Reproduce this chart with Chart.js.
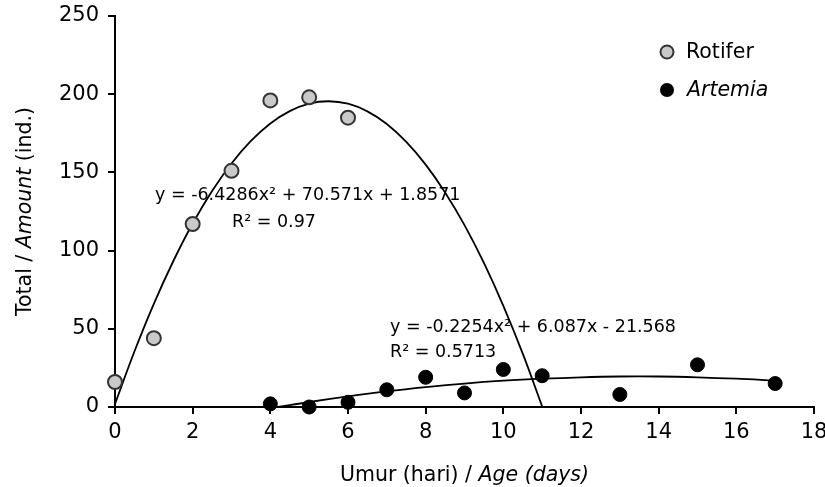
<!DOCTYPE html>
<html lang="id">
<head>
  <meta charset="UTF-8">
  <title>Rotifer & Artemia</title>
  <script src="https://cdn.jsdelivr.net/npm/chart.js"></script>
  <style>
    html, body { margin: 0; padding: 0; background: #fff; }
    #wrap { width: 825px; height: 487px; }
  </style>
</head>
<body>

<div id="wrap">
  <canvas id="grafik" width="825" height="487"></canvas>
</div>

<script>
// data titik pengamatan
const rotiferUmur = [0, 1, 2, 3, 4, 5, 6];
const rotiferJumlah = [16, 44, 117, 151, 196, 198, 185];

const artemiaUmur = [4, 5, 6, 7, 8, 9, 10, 11, 13, 15, 17];
const artemiaJumlah = [2, 0, 3, 11, 19, 9, 24, 20, 8, 27, 15];

// garis trend (dibaca dari kurva pada gambar)
const trendRotiferX = [0, 0.5, 1, 1.5, 2, 2.5, 3, 3.5, 4, 4.5, 5, 5.5, 6, 6.5, 7, 7.5, 8, 8.5, 9, 9.5, 10, 10.5, 11];
const trendRotiferY = [1.9, 35.5, 66.0, 93.2, 117.3, 138.1, 155.7, 170.1, 181.3, 189.2, 194.0, 195.5, 193.9, 189.0, 180.9, 169.5, 155.0, 137.2, 116.3, 92.1, 64.7, 34.1, 0.3];

const trendArtemiaX = [4.2, 5, 6, 7, 8, 9, 10, 11, 12, 13, 14, 15, 16, 17];
const trendArtemiaY = [0, 3.2, 6.8, 10.0, 12.7, 15.0, 16.8, 18.1, 19.0, 19.5, 19.5, 19.0, 18.1, 16.8];

const xTicks = [0, 2, 4, 6, 8, 10, 12, 14, 16, 18];
const yTicks = [0, 50, 100, 150, 200, 250];

const persamaanRotifer = ['y = -6.4286x\u00B2 + 70.571x + 1.8571', 'R\u00B2 = 0.97'];
const persamaanArtemia = ['y = -0.2254x\u00B2 + 6.087x - 21.568', 'R\u00B2 = 0.5713'];

const FONT = "'DejaVu Sans', sans-serif";

function pasangan(xs, ys) {
  return xs.map((x, i) => ({ x: x, y: ys[i] }));
}

// teks campuran normal / italic
function tulisCampur(ctx, bagian, x, y, size) {
  let pos = x;
  bagian.forEach(b => {
    ctx.font = (b[1] ? 'italic ' : '') + size + 'px ' + FONT;
    ctx.fillText(b[0], pos, y);
    pos += ctx.measureText(b[0]).width;
  });
  return pos - x;
}

function lebarCampur(ctx, bagian, size) {
  let w = 0;
  bagian.forEach(b => {
    ctx.font = (b[1] ? 'italic ' : '') + size + 'px ' + FONT;
    w += ctx.measureText(b[0]).width;
  });
  return w;
}

const tambahan = {
  id: 'tambahan',
  afterDraw(chart) {
    const ctx = chart.ctx;
    const area = chart.chartArea;
    ctx.save();
    ctx.fillStyle = '#000';
    ctx.textBaseline = 'alphabetic';
    ctx.textAlign = 'left';

    // judul sumbu x
    const judulX = [['Umur (hari) / ', false], ['Age (days)', true]];
    const wx = lebarCampur(ctx, judulX, 20.5);
    tulisCampur(ctx, judulX, (area.left + area.right) / 2 - wx / 2, 481, 20.5);

    // judul sumbu y
    const judulY = [['Total / ', false], ['Amount', true], [' (ind.)', false]];
    const wy = lebarCampur(ctx, judulY, 20.5);
    ctx.save();
    ctx.translate(31, (area.top + area.bottom) / 2);
    ctx.rotate(-Math.PI / 2);
    tulisCampur(ctx, judulY, -wy / 2, 0, 20.5);
    ctx.restore();

    // persamaan
    ctx.font = '17.5px ' + FONT;
    ctx.textBaseline = 'middle';
    ctx.fillText(persamaanRotifer[0], 155, 195);
    ctx.fillText(persamaanRotifer[1], 232, 222);
    ctx.fillText(persamaanArtemia[0], 390, 327);
    ctx.fillText(persamaanArtemia[1], 390, 352);

    // legenda
    ctx.lineWidth = 2;
    ctx.beginPath();
    ctx.arc(667, 52, 6.5, 0, Math.PI * 2);
    ctx.fillStyle = '#c9c9c9';
    ctx.fill();
    ctx.strokeStyle = '#333';
    ctx.stroke();
    ctx.beginPath();
    ctx.arc(667, 90, 7, 0, Math.PI * 2);
    ctx.fillStyle = '#000';
    ctx.fill();
    ctx.font = '20.5px ' + FONT;
    ctx.fillText('Rotifer', 686, 53);
    ctx.font = 'italic 20.5px ' + FONT;
    ctx.fillText('Artemia', 687, 91);

    ctx.restore();
  }
};

const ctx = document.getElementById('grafik').getContext('2d');
new Chart(ctx, {
  type: 'scatter',
  data: {
    datasets: [
      {
        label: 'Rotifer',
        data: pasangan(rotiferUmur, rotiferJumlah),
        backgroundColor: '#c9c9c9',
        borderColor: '#333',
        borderWidth: 2,
        pointRadius: 7,
        clip: false,
        order: 1
      },
      {
        label: 'Artemia',
        data: pasangan(artemiaUmur, artemiaJumlah),
        backgroundColor: '#000',
        borderColor: '#000',
        borderWidth: 1,
        pointRadius: 7,
        clip: false,
        order: 1
      },
      {
        label: 'trend rotifer',
        data: pasangan(trendRotiferX, trendRotiferY),
        showLine: true,
        borderColor: '#000',
        borderWidth: 1.8,
        pointRadius: 0,
        tension: 0.4,
        clip: false,
        order: 2
      },
      {
        label: 'trend artemia',
        data: pasangan(trendArtemiaX, trendArtemiaY),
        showLine: true,
        borderColor: '#000',
        borderWidth: 1.8,
        pointRadius: 0,
        tension: 0.4,
        clip: false,
        order: 2
      }
    ]
  },
  options: {
    responsive: false,
    animation: false,
    layout: { padding: { top: 16, right: 11, left: 0, bottom: 0 } },
    plugins: {
      legend: { display: false },
      tooltip: { enabled: false }
    },
    scales: {
      x: {
        type: 'linear',
        min: 0,
        max: 18,
        afterFit(s) { s.height = 80; s.paddingRight = 0; s.paddingLeft = 0; },
        afterBuildTicks(s) { s.ticks = xTicks.map(v => ({ value: v })); },
        border: { color: '#000', width: 2 },
        grid: { drawOnChartArea: false, drawTicks: true, tickLength: 7, color: '#000', lineWidth: 2 },
        ticks: { color: '#000', font: { family: FONT, size: 21 }, padding: 6 }
      },
      y: {
        min: 0,
        max: 250,
        afterFit(s) { s.width = 115; s.paddingTop = 0; s.paddingBottom = 0; },
        afterBuildTicks(s) { s.ticks = yTicks.map(v => ({ value: v })); },
        border: { color: '#000', width: 2 },
        grid: { drawOnChartArea: false, drawTicks: true, tickLength: 7, color: '#000', lineWidth: 2 },
        ticks: { color: '#000', font: { family: FONT, size: 21 }, padding: 9 }
      }
    }
  },
  plugins: [tambahan]
});
</script>

</body>
</html>
